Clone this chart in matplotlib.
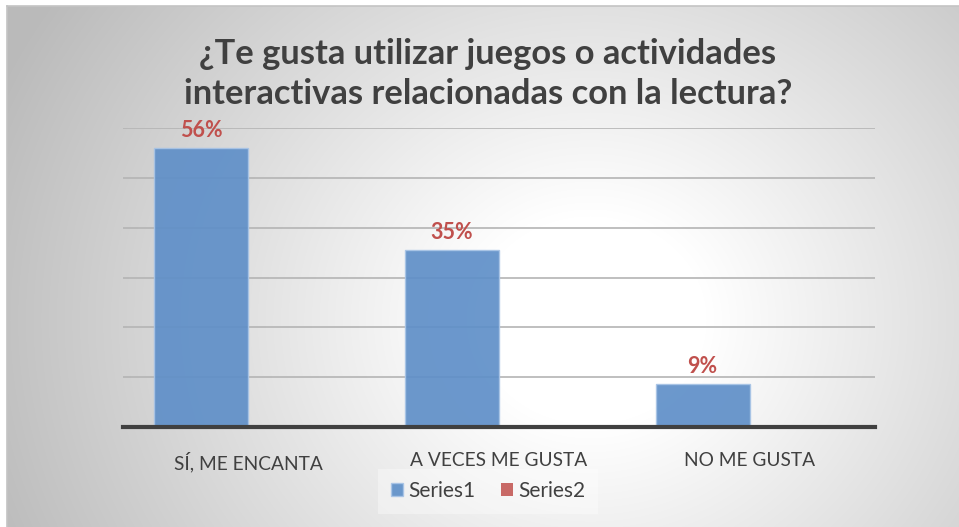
import numpy as np
import matplotlib
matplotlib.use("Agg")
import matplotlib.pyplot as plt

categories = ["SÍ, ME ENCANTA", "A VECES ME GUSTA", "NO ME GUSTA"]
series1 = [0.56, 0.355, 0.087]
series2 = [0.0, 0.0, 0.0]
labels1 = ["56%", "35%", "9%"]
title = "¿Te gusta utilizar juegos o actividades\ninteractivas relacionadas con la lectura?"

plt.rcParams["font.family"] = ["Lato", "DejaVu Sans"]

W, H = 959, 527
fig = plt.figure(figsize=(W / 100, H / 100), dpi=100)

# radial gray gradient behind the chart frame
bg = fig.add_axes([0, 0, 1, 1])
yy, xx = np.mgrid[0:H, 0:W]
r = np.sqrt(((xx - 590) / 580.0) ** 2 + ((yy - 320) / 520.0) ** 2)
shade = 255 - np.clip((r - 0.2) / 0.8, 0, 1.15) * 60
img = np.dstack([shade, shade, shade]) / 255.0
img[:6, :] = 1.0
img[:, :7] = 1.0
bg.imshow(img, extent=[0, W, H, 0], aspect="auto", interpolation="bilinear")
bg.plot([7, W], [6, 6], color="#c4c4c4", lw=1.2)
bg.plot([7, 7], [6, H], color="#c4c4c4", lw=1.2)
bg.set_xlim(0, W)
bg.set_ylim(H, 0)
bg.axis("off")

ax = fig.add_axes([123 / W, 1 - 427 / H, (875 - 123) / W, (427 - 128) / H])
ax.patch.set_alpha(0)
x = np.arange(len(categories))
w = 0.375
bars = ax.bar(x - w / 2, series1, w, color="#5f8fc8", alpha=0.92,
              edgecolor="#a8c4e6", linewidth=1, label="Series1", zorder=3)
ax.bar(x + w / 2, series2, w, color="#c0504d", alpha=0.85,
       linewidth=0, label="Series2", zorder=3)

for b, t in zip(bars, labels1):
    ax.annotate(t, (b.get_x() + b.get_width() / 2, b.get_height()),
                xytext=(0, 5), textcoords="offset points", ha="center", va="bottom",
                color="#c0504d", fontsize=15.5, fontweight="bold")

ax.set_xlim(-0.5, len(categories) - 0.5)
ax.set_ylim(0, 0.6)
ax.set_yticks(np.arange(0, 0.61, 0.1))
ax.yaxis.grid(True, color="#b4b4b4", lw=1.2, zorder=0)
ax.tick_params(axis="y", left=False, labelleft=False)
ax.set_xticks(x)
ax.set_xticklabels(categories, fontsize=13.8, color="#404040")
ax.tick_params(axis="x", length=0, pad=18)
for s in ["top", "right", "left"]:
    ax.spines[s].set_visible(False)
ax.spines["bottom"].set_color("#404040")
ax.spines["bottom"].set_linewidth(3)
ax.spines["bottom"].set_zorder(4)

leg = ax.legend(loc="center", bbox_to_anchor=(488 / W, 1 - 491 / H),
                bbox_transform=fig.transFigure, ncol=2, frameon=True,
                fontsize=15, handlelength=0.6, handleheight=0.6,
                handletextpad=0.25, columnspacing=1.2, borderpad=0.6)
leg.get_frame().set_facecolor("white")
leg.get_frame().set_alpha(0.35)
leg.get_frame().set_edgecolor("none")
leg.get_frame().set_boxstyle("square", pad=0)
for t in leg.get_texts():
    t.set_color("#404040")

fig.text(488 / W, 1 - 74 / H, title, ha="center", va="center", fontsize=24.8,
         fontweight="bold", color="#404040", linespacing=1.33)

fig.savefig("out.png", dpi=100)
